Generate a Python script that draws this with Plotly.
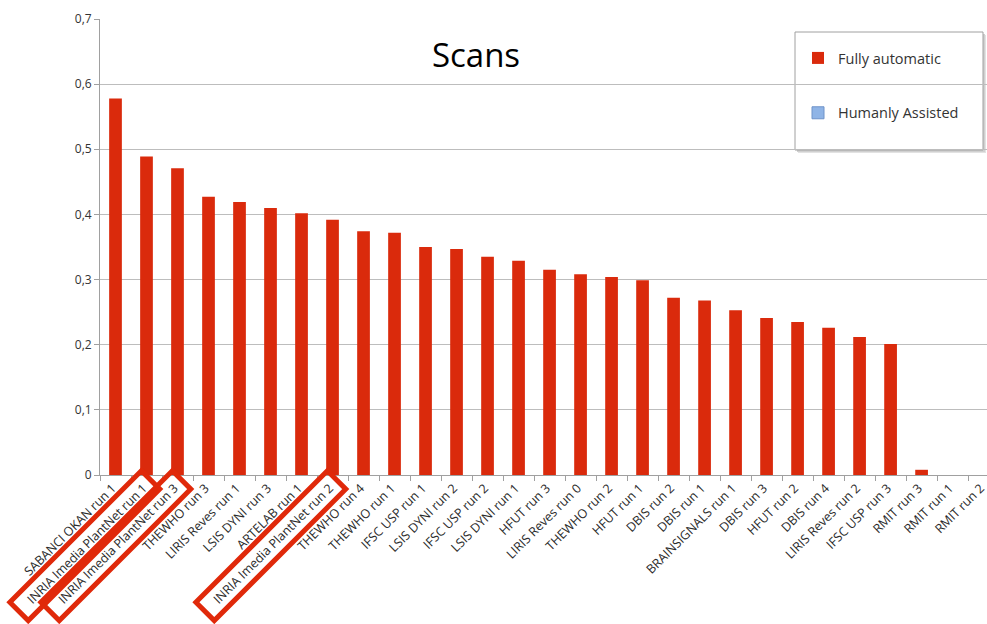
import plotly.graph_objects as go

categories = [
    "SABANCI OKAN run 1", "INRIA Imedia PlantNet run 1", "INRIA Imedia PlantNet run 3",
    "THEWHO run 3", "LIRIS Reves run 1", "LSIS DYNI run 3", "ARTELAB run 1",
    "INRIA Imedia PlantNet run 2", "THEWHO run 4", "THEWHO run 1", "IFSC USP run 1",
    "LSIS DYNI run 2", "IFSC USP run 2", "LSIS DYNI run 1", "HFUT run 3",
    "LIRIS Reves run 0", "THEWHO run 2", "HFUT run 1", "DBIS run 2", "DBIS run 1",
    "BRAINSIGNALS run 1", "DBIS run 3", "HFUT run 2", "DBIS run 4", "LIRIS Reves run 2",
    "IFSC USP run 3", "RMIT run 3", "RMIT run 1", "RMIT run 2",
]
fully_automatic = [
    0.578, 0.489, 0.471, 0.427, 0.419, 0.410, 0.402, 0.392, 0.374, 0.372, 0.350,
    0.347, 0.335, 0.329, 0.315, 0.308, 0.304, 0.299, 0.272, 0.268, 0.253, 0.241,
    0.235, 0.226, 0.212, 0.201, 0.008, 0.0, 0.0,
]
# the "Humanly Assisted" series has no values in the chart (legend entry only)
humanly_assisted_x = ["SABANCI OKAN run 1"]
humanly_assisted_y = [None]
y_tick_values = [0, 0.1, 0.2, 0.3, 0.4, 0.5, 0.6, 0.7]
y_tick_labels = ["0", "0,1", "0,2", "0,3", "0,4", "0,5", "0,6", "0,7"]
highlighted = ["INRIA Imedia PlantNet run 1", "INRIA Imedia PlantNet run 3",
               "INRIA Imedia PlantNet run 2"]

W, H = 987, 624
ML, MR, MT, MB = 100, 0, 19, 149
PW, PH = W - ML - MR, H - MT - MB
X0, X1 = -0.5, 28.11
LABEL_SHIFT = -3

RED = "#da2a0c"
BLUE = "#8fb4e6"
GRID = "#bdbdbd"

fig = go.Figure()
fig.add_trace(go.Bar(
    x=categories, y=fully_automatic, name="Fully automatic",
    marker=dict(color=RED, line=dict(width=0)), legendgroup="a", showlegend=True,
))
fig.add_trace(go.Bar(
    x=humanly_assisted_x, y=humanly_assisted_y, name="Humanly Assisted",
    marker=dict(color=BLUE, line=dict(color="#6f93c9", width=1)), legendgroup="b",
    showlegend=True,
))

def px_to_paper(xp, yp):
    return (xp - ML) / PW, (MT + PH - yp) / PH

shapes = []
# legend box with shadow (pixel coordinates converted to paper)
lx0, ly0, lx1, ly1 = 795, 32, 983, 150
for off, col in [(3, "#e2e2e2"), (2, "#d0d0d0")]:
    a = px_to_paper(lx0 + off, ly0 + off)
    b = px_to_paper(lx1 + off, ly1 + off)
    shapes.append(dict(type="rect", xref="paper", yref="paper", x0=a[0], y0=a[1],
                       x1=b[0], y1=b[1], fillcolor=col, line=dict(width=0), layer="between"))
a = px_to_paper(lx0, ly0)
b = px_to_paper(lx1, ly1)
shapes.append(dict(type="rect", xref="paper", yref="paper", x0=a[0], y0=a[1],
                   x1=b[0], y1=b[1], fillcolor="white", line=dict(color="#a0a0a0", width=1),
                   layer="between"))

# red highlight rectangles around selected labels
s2 = 2 ** 0.5
for name in highlighted:
    i = categories.index(name)
    xc = ML + (i - X0) / (X1 - X0) * PW
    ex, ey = xc + LABEL_SHIFT, 487.0
    t0, t1, T = -10.0, 176.0, 26.0
    ux, uy = -1 / s2, 1 / s2
    nx, ny = 1 / s2, 1 / s2
    pts = []
    for t, s in [(t0, -T / 2), (t0, T / 2), (t1, T / 2), (t1, -T / 2)]:
        pts.append(px_to_paper(ex + t * ux + s * nx, ey + t * uy + s * ny))
    path = "M " + " L ".join(f"{p[0]:.5f},{p[1]:.5f}" for p in pts) + " Z"
    shapes.append(dict(type="path", xref="paper", yref="paper", path=path,
                       line=dict(color="#e0290a", width=5), layer="above"))

lg = px_to_paper(798, 42)

fig.update_layout(
    width=W, height=H,
    margin=dict(l=ML, r=MR, t=MT, b=MB, pad=0, autoexpand=False),
    paper_bgcolor="white", plot_bgcolor="white",
    barmode="overlay", bargap=0.59, showlegend=True,
    font=dict(family="Open Sans", color="#333333"),
    title=dict(text="Scans", x=476 / W, y=(H - 55) / H, xref="container", yref="container",
               xanchor="center", yanchor="middle",
               font=dict(family="Open Sans", size=33, color="black")),
    xaxis=dict(
        type="category", range=[X0, X1], tickangle=-45, automargin=False,
        tickfont=dict(size=12.5, color="#2a2a2a"),
        ticks="outside", tickson="boundaries", ticklen=5, tickcolor="#a0a0a0",
        showline=True, linecolor="#a0a0a0", linewidth=1, showgrid=False,
        ticklabelshift=LABEL_SHIFT,
    ),
    yaxis=dict(
        range=[0, 0.7], tickvals=y_tick_values, ticktext=y_tick_labels, automargin=False,
        tickfont=dict(size=12, color="#333333"),
        ticks="outside", ticklen=5, tickcolor="#a0a0a0",
        showline=True, linecolor="#a0a0a0", linewidth=1,
        showgrid=True, gridcolor=GRID, gridwidth=1, zeroline=False,
    ),
    legend=dict(
        x=lg[0], y=lg[1], xanchor="left", yanchor="top",
        bgcolor="rgba(0,0,0,0)", borderwidth=0,
        font=dict(size=14.5, color="#333333"),
        traceorder="grouped", tracegroupgap=33,
    ),
    shapes=shapes,
)

fig.write_html(
    "out.html",
    config={"displayModeBar": False},
    post_script="document.body.style.margin='0';document.body.style.overflow='hidden';"
                "document.documentElement.style.overflow='hidden';",
)
